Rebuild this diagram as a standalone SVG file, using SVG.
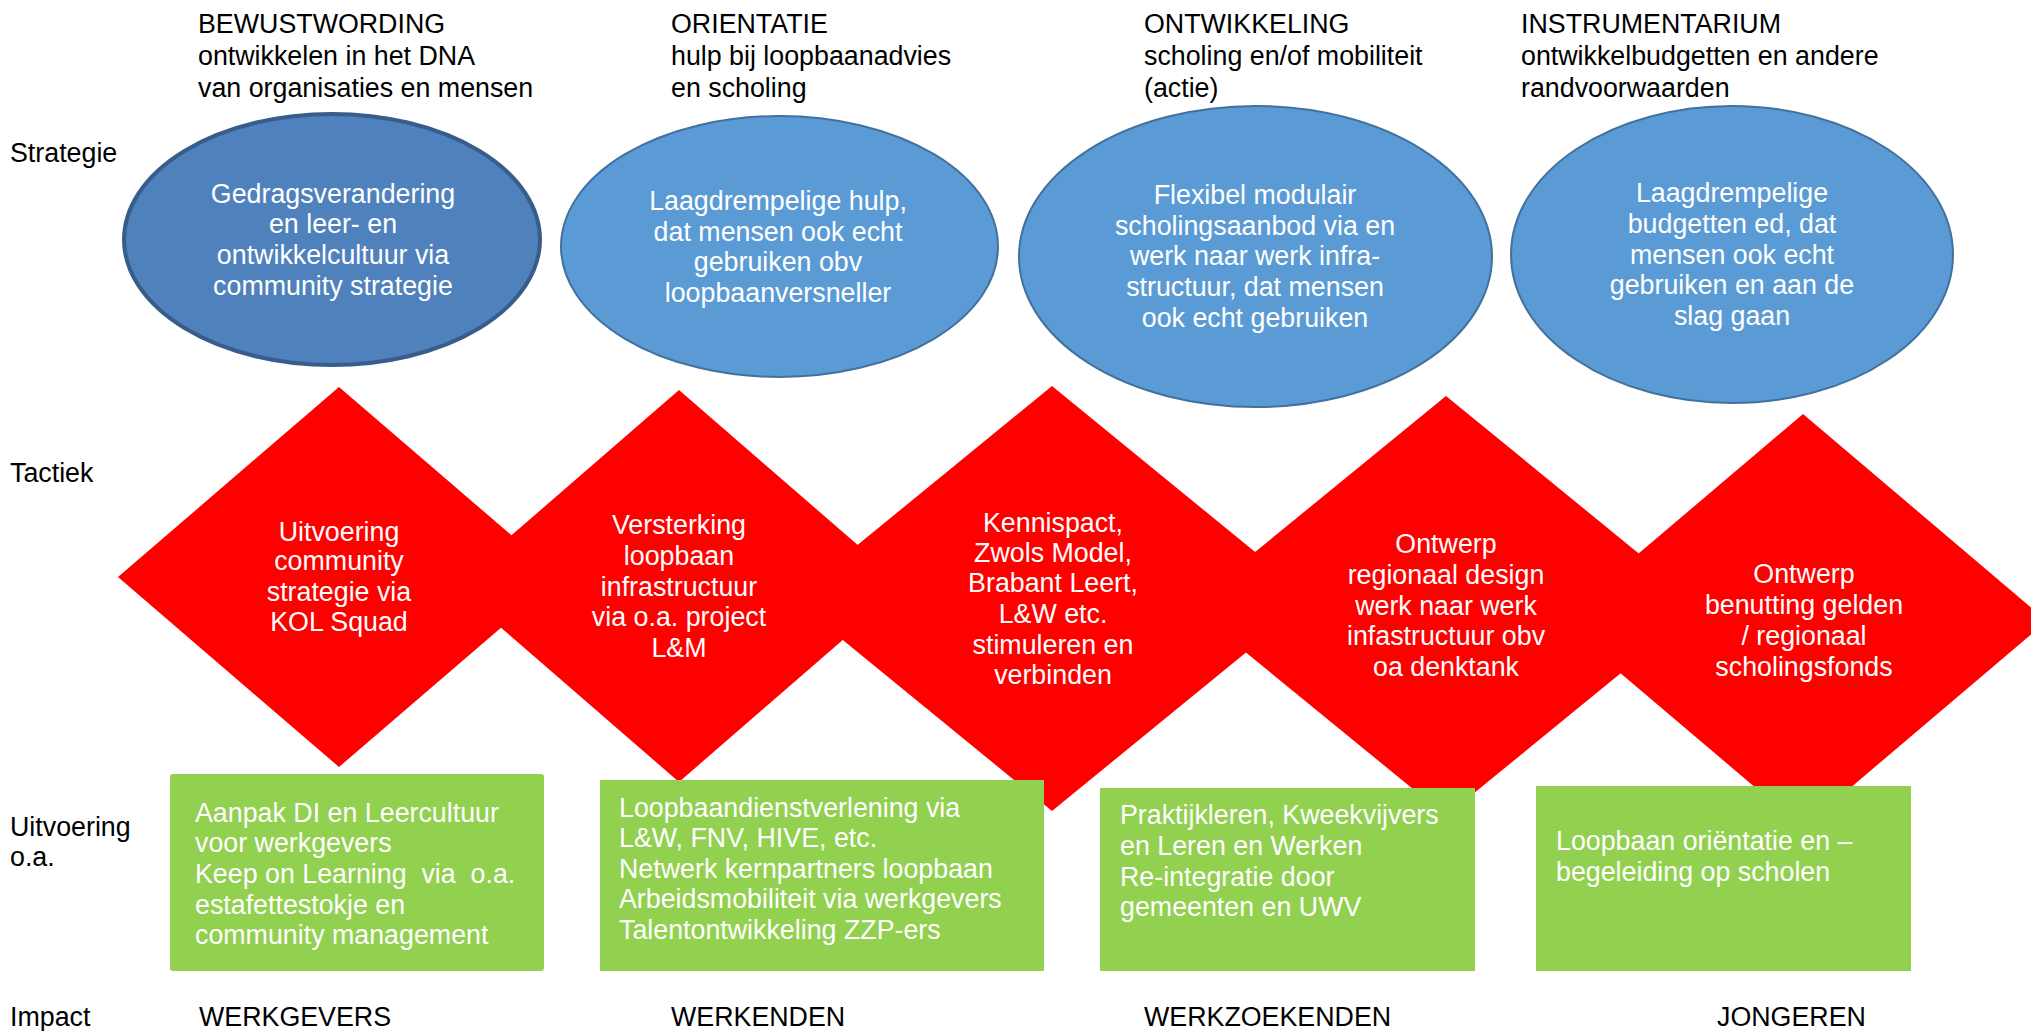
<svg xmlns="http://www.w3.org/2000/svg" width="2031" height="1031" viewBox="0 0 2031 1031">
<style>
text{font-family:"Liberation Sans",Arial,sans-serif;font-size:26.8px}
.k{fill:#000}
.w{fill:#fff;text-anchor:middle}
.wl{fill:#fff}
.ell{fill:#5b9bd5;stroke:#41719c;stroke-width:2}
.ell1{fill:#4f81bd;stroke:#385d8a;stroke-width:4}
.dia{fill:#ff0000}
.box{fill:#92d050}
</style>
<rect width="2031" height="1031" fill="#fff"/>
<g id="headers">
<text class="k" x="198" y="33">BEWUSTWORDING</text>
<text class="k" x="198" y="65">ontwikkelen in het DNA</text>
<text class="k" x="198" y="97">van organisaties en mensen</text>
<text class="k" x="671" y="33">ORIENTATIE</text>
<text class="k" x="671" y="65">hulp bij loopbaanadvies</text>
<text class="k" x="671" y="97">en scholing</text>
<text class="k" x="1144" y="33">ONTWIKKELING</text>
<text class="k" x="1144" y="65">scholing en/of mobiliteit</text>
<text class="k" x="1144" y="97">(actie)</text>
<text class="k" x="1521" y="33">INSTRUMENTARIUM</text>
<text class="k" x="1521" y="65">ontwikkelbudgetten en andere</text>
<text class="k" x="1521" y="97">randvoorwaarden</text>
</g>
<g id="row-labels">
<text class="k" x="10" y="162">Strategie</text>
<text class="k" x="10" y="482">Tactiek</text>
<text class="k" x="10" y="836">Uitvoering</text>
<text class="k" x="10" y="866">o.a.</text>
<text class="k" x="10" y="1026">Impact</text>
</g>
<g id="strategie-1">
<ellipse class="ell1" cx="332" cy="239.5" rx="208" ry="125.5"/>
<text class="w" x="333" y="203">Gedragsverandering</text>
<text class="w" x="333" y="233">en leer- en</text>
<text class="w" x="333" y="264">ontwikkelcultuur via</text>
<text class="w" x="333" y="295">community strategie</text>
</g>
<g id="strategie-2">
<ellipse class="ell" cx="779.5" cy="246.5" rx="218.5" ry="130.5"/>
<text class="w" x="778" y="210">Laagdrempelige hulp,</text>
<text class="w" x="778" y="241">dat mensen ook echt</text>
<text class="w" x="778" y="271">gebruiken obv</text>
<text class="w" x="778" y="302">loopbaanversneller</text>
</g>
<g id="strategie-3">
<ellipse class="ell" cx="1255.5" cy="256.5" rx="236.5" ry="150.5"/>
<text class="w" x="1255" y="204">Flexibel modulair</text>
<text class="w" x="1255" y="235">scholingsaanbod via en</text>
<text class="w" x="1255" y="265">werk naar werk infra-</text>
<text class="w" x="1255" y="296">structuur, dat mensen</text>
<text class="w" x="1255" y="327">ook echt gebruiken</text>
</g>
<g id="strategie-4">
<ellipse class="ell" cx="1732" cy="254.5" rx="221" ry="148.5"/>
<text class="w" x="1732" y="202">Laagdrempelige</text>
<text class="w" x="1732" y="233">budgetten ed, dat</text>
<text class="w" x="1732" y="264">mensen ook echt</text>
<text class="w" x="1732" y="294">gebruiken en aan de</text>
<text class="w" x="1732" y="325">slag gaan</text>
</g>
<g id="tactiek-1">
<polygon class="dia" points="339,387 560,577 339,767 118,577"/>
</g>
<g id="tactiek-2">
<polygon class="dia" points="679,390 905,586 679,782 453,586"/>
</g>
<g id="tactiek-3">
<polygon class="dia" points="1052,386 1312,598.5 1052,811 792,598.5"/>
</g>
<g id="tactiek-4">
<polygon class="dia" points="1446,396 1703,606 1446,816 1189,606"/>
</g>
<g id="tactiek-5">
<polygon class="dia" points="1803,414 2047,621 1803,828 1559,621"/>
</g>
<g id="tactiek-labels">
<text class="w" x="339" y="541">Uitvoering</text>
<text class="w" x="339" y="570">community</text>
<text class="w" x="339" y="601">strategie via</text>
<text class="w" x="339" y="631">KOL Squad</text>
<text class="w" x="679" y="534">Versterking</text>
<text class="w" x="679" y="565">loopbaan</text>
<text class="w" x="679" y="596">infrastructuur</text>
<text class="w" x="679" y="626">via o.a. project</text>
<text class="w" x="679" y="657">L&amp;M</text>
<text class="w" x="1053" y="532">Kennispact,</text>
<text class="w" x="1053" y="562">Zwols Model,</text>
<text class="w" x="1053" y="592">Brabant Leert,</text>
<text class="w" x="1053" y="623">L&amp;W etc.</text>
<text class="w" x="1053" y="654">stimuleren en</text>
<text class="w" x="1053" y="684">verbinden</text>
<text class="w" x="1446" y="553">Ontwerp</text>
<text class="w" x="1446" y="584">regionaal design</text>
<text class="w" x="1446" y="615">werk naar werk</text>
<text class="w" x="1446" y="645">infastructuur obv</text>
<text class="w" x="1446" y="676">oa denktank</text>
<text class="w" x="1804" y="583">Ontwerp</text>
<text class="w" x="1804" y="614">benutting gelden</text>
<text class="w" x="1804" y="645">/ regionaal</text>
<text class="w" x="1804" y="676">scholingsfonds</text>
</g>
<g id="uitvoering-1">
<rect class="box" x="170" y="774" width="374" height="197" rx="3"/>
<text class="wl" x="195" y="822">Aanpak DI en Leercultuur</text>
<text class="wl" x="195" y="852">voor werkgevers</text>
<text class="wl" x="195" y="883" xml:space="preserve">Keep on Learning  via  o.a.</text>
<text class="wl" x="195" y="914">estafettestokje en</text>
<text class="wl" x="195" y="944">community management</text>
</g>
<g id="uitvoering-2">
<rect class="box" x="600" y="780" width="444" height="191"/>
<text class="wl" x="619" y="817">Loopbaandienstverlening via</text>
<text class="wl" x="619" y="847">L&amp;W, FNV, HIVE, etc.</text>
<text class="wl" x="619" y="878">Netwerk kernpartners loopbaan</text>
<text class="wl" x="619" y="908">Arbeidsmobiliteit via werkgevers</text>
<text class="wl" x="619" y="939">Talentontwikkeling ZZP-ers</text>
</g>
<g id="uitvoering-3">
<rect class="box" x="1100" y="788" width="375" height="183"/>
<text class="wl" x="1120" y="824">Praktijkleren, Kweekvijvers</text>
<text class="wl" x="1120" y="855">en Leren en Werken</text>
<text class="wl" x="1120" y="886">Re-integratie door</text>
<text class="wl" x="1120" y="916">gemeenten en UWV</text>
</g>
<g id="uitvoering-4">
<rect class="box" x="1536" y="786" width="375" height="185"/>
<text class="wl" x="1556" y="850">Loopbaan oriëntatie en –</text>
<text class="wl" x="1556" y="881">begeleiding op scholen</text>
</g>
<g id="impact">
<text class="k" x="199" y="1026">WERKGEVERS</text>
<text class="k" x="671" y="1026">WERKENDEN</text>
<text class="k" x="1144" y="1026">WERKZOEKENDEN</text>
<text class="k" x="1717" y="1026">JONGEREN</text>
</g>
<g id="connectors"/>
</svg>
